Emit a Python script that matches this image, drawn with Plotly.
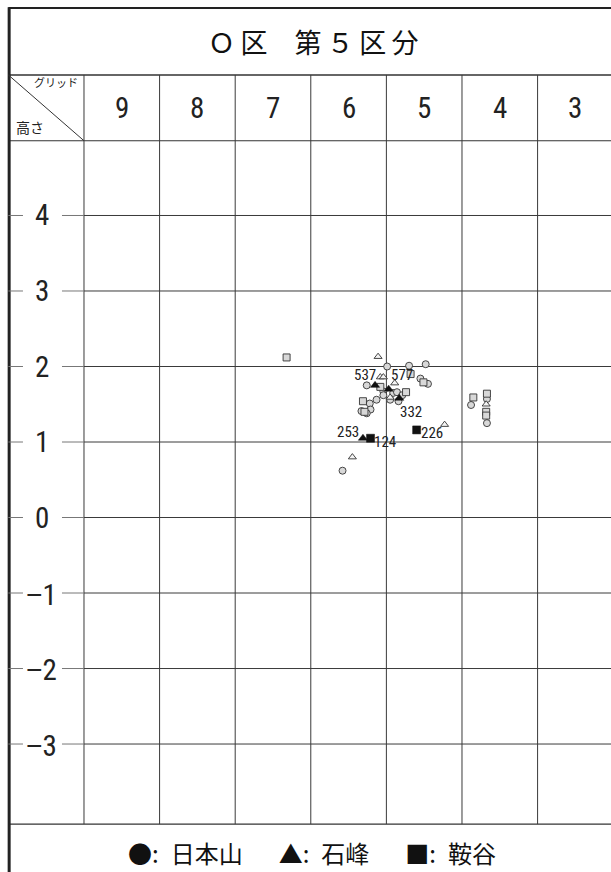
import plotly.graph_objects as go

# grid columns and height ticks
grid_labels = ['9', '8', '7', '6', '5', '4', '3']
grid_pos = [9, 8, 7, 6, 5, 4, 3]
height_ticks = [4, 3, 2, 1, 0, -1, -2, -3]
height_labels = ['4', '3', '2', '1', '0', '\u22121', '\u22122', '\u22123']

# 日本山 (circles)
circ_x = [5.49, 5.20, 4.98, 5.76, 5.05, 4.95, 5.54, 5.41, 5.36, 5.29, 5.45, 5.34,
          5.72, 5.63, 5.54, 5.83, 5.71, 5.76, 6.08, 4.38, 4.17, 4.17]
circ_y = [2.00, 2.01, 2.03, 1.75, 1.84, 1.77, 1.67, 1.65, 1.66, 1.62, 1.56, 1.54,
          1.51, 1.56, 1.62, 1.41, 1.43, 1.38, 0.62, 1.49, 1.57, 1.25]

# 石峰 (triangles)
tri_x = [5.61, 5.58, 5.54, 5.39, 5.45, 5.95, 4.73, 4.18]
tri_y = [2.13, 1.86, 1.86, 1.78, 1.59, 0.80, 1.23, 1.50]

# 鞍谷 (squares)
sq_x = [6.82, 5.18, 5.58, 5.01, 5.24, 5.81, 5.79, 4.35, 4.17, 4.18, 4.18]
sq_y = [2.12, 1.90, 1.73, 1.79, 1.66, 1.54, 1.40, 1.59, 1.64, 1.40, 1.35]

# numbered finds (filled)
lab_names = ['537', '577', '332', '253', '124', '226']
lab_kind = ['triangle-up', 'triangle-up', 'triangle-up', 'triangle-up', 'square', 'square']
lab_x = [5.65, 5.47, 5.33, 5.81, 5.71, 5.10]
lab_y = [1.75, 1.70, 1.58, 1.05, 1.05, 1.16]

# label placement (xanchor, xshift, yshift, arrow ax, arrow ay)
lab_place = {
    '537': ('right', 3, 10, None, None),
    '577': ('left', 0, 14, None, None),
    '332': ('center', 0, 0, 12, 14),
    '253': ('right', -2, 6, None, None),
    '124': ('left', 1, -4, None, None),
    '226': ('left', 2, -3, None, None),
}

# layout constants (data units, 75.6 px per column, 75.5 px per metre)
X_LEFT = 10.5
X_RIGHT = 2.4
Y_TOP = 6.748
Y_TITLE = 5.861
Y_HEAD = 4.99
Y_BOT = -4.06
LINE = '#3a3a3a'
NARROW = 'Liberation Sans Narrow, Roboto Condensed, Roboto, sans-serif'
JP = 'Noto Sans CJK JP, sans-serif'

fig = go.Figure()

shapes = []
def seg(x0, y0, x1, y1, w=1, c=LINE):
    shapes.append(dict(type='line', x0=x0, y0=y0, x1=x1, y1=y1, xref='x', yref='y',
                       line=dict(color=c, width=w), layer='below'))

# frame
seg(X_LEFT, Y_TOP, X_RIGHT, Y_TOP, 2, '#222')
seg(X_LEFT, Y_TITLE, X_RIGHT, Y_TITLE, 1.5, '#333')
seg(X_LEFT, Y_HEAD, X_RIGHT, Y_HEAD, 1.2, '#333')
seg(X_LEFT, Y_BOT, X_RIGHT, Y_BOT, 1.2, '#333')
seg(X_LEFT - 0.01, Y_TOP + 0.01, X_LEFT - 0.01, -4.8, 3, '#222')
seg(X_LEFT, Y_TITLE, 9.5, Y_HEAD, 1, '#333')

# column lines
for g in grid_pos:
    seg(g + 0.5, Y_TITLE, g + 0.5, Y_BOT, 1, LINE)

# height lines
for h in height_ticks:
    seg(9.5, h, X_RIGHT, h, 1, LINE)
    seg(X_LEFT, h, 10.307, h, 1, '#777')
    seg(9.791, h, 9.5, h, 1, '#777')

annots = []
for g, t in zip(grid_pos, grid_labels):
    annots.append(dict(x=g, y=5.43, text=t, showarrow=False,
                       font=dict(family=NARROW, size=29, color='#222')))
for h, t in zip(height_ticks, height_labels):
    t = t.replace('\u2212', '<span style="font-family:Noto Sans">\u2212</span>')
    annots.append(dict(x=10.06, y=h, text=t, showarrow=False,
                       font=dict(family=NARROW, size=29, color='#222')))

annots.append(dict(x=6.458, y=6.311, showarrow=False,
                   text='Ｏ\u2009区\u3000第\u2009５\u2009区\u2009分',
                   font=dict(family=JP, size=27, color='#111')))
annots.append(dict(x=9.55, y=5.768, text='グリッド', showarrow=False, xanchor='right',
                   font=dict(family=JP, size=11, color='#222')))
annots.append(dict(x=10.214, y=5.172, text='高さ', showarrow=False,
                   font=dict(family=JP, size=14, color='#222')))
annots.append(dict(x=6.484, y=-4.44, showarrow=False,
                   text='●:\u2002日本山\u3000\u2002▲:\u2002石峰\u3000\u2002■:\u2002鞍谷',
                   font=dict(family=JP, size=24, color='#111')))

for n, x, y in zip(lab_names, lab_x, lab_y):
    xa, xs, ys, ax, ay = lab_place[n]
    if ax is None:
        annots.append(dict(x=x, y=y, text=n, showarrow=False, xanchor=xa,
                           xshift=xs, yshift=ys,
                           font=dict(family=NARROW, size=15, color='#222')))
    else:
        annots.append(dict(x=x, y=y, text=n, showarrow=True, arrowhead=0,
                           arrowwidth=0.8, arrowcolor='#222', ax=ax, ay=ay,
                           standoff=2,
                           font=dict(family=NARROW, size=15, color='#222')))

outline = dict(color='#333', width=0.9)
fig.add_trace(go.Scatter(x=circ_x, y=circ_y, mode='markers', name='日本山',
                         marker=dict(symbol='circle', size=7, color='#d8d8d8', line=outline)))
fig.add_trace(go.Scatter(x=tri_x, y=tri_y, mode='markers', name='石峰',
                         marker=dict(symbol='triangle-up', size=7, color='#f4f4f4', line=outline)))
fig.add_trace(go.Scatter(x=sq_x, y=sq_y, mode='markers', name='鞍谷',
                         marker=dict(symbol='square', size=7, color='#d8d8d8', line=outline)))
fig.add_trace(go.Scatter(x=lab_x, y=lab_y, mode='markers', name='番号',
                         marker=dict(symbol=lab_kind, size=8, color='#111',
                                     line=dict(color='#111', width=0.5))))

fig.update_layout(
    width=611, height=872,
    margin=dict(l=0, r=0, t=0, b=0),
    paper_bgcolor='white', plot_bgcolor='white',
    showlegend=False,
    shapes=shapes, annotations=annots,
    xaxis=dict(range=[10.611, 2.529], visible=False, fixedrange=True),
    yaxis=dict(range=[-4.695, 6.854], visible=False, fixedrange=True),
)

fig.write_html("out.html", config={'displayModeBar': False},
               post_script="document.body.style.margin='0';document.body.style.overflow='hidden';")
